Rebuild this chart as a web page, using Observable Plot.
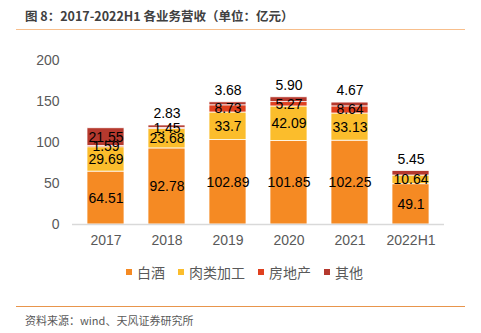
<!DOCTYPE html>
<html>
<head>
<meta charset="utf-8">
<script src="https://cdn.jsdelivr.net/npm/d3@7"></script>
<script src="https://cdn.jsdelivr.net/npm/@observablehq/plot@0.6"></script>
<style>
  html, body { margin: 0; padding: 0; background: #fff; }
  #wrap { position: relative; width: 481px; height: 333px; overflow: hidden; }
  #title { position: absolute; left: 25px; top: 7px; font: bold 12.5px "Noto Sans CJK SC", sans-serif; color: #404040; white-space: nowrap; line-height: 18px; }
  #line1 { position: absolute; left: 16px; top: 28.5px; width: 449px; height: 1.5px; background: #F8BF8C; }
  #chart { position: absolute; left: 0; top: 30px; }
  #legend { position: absolute; left: 126px; top: 262px; height: 20px; display: flex; align-items: center; font: 14px "Noto Sans CJK SC", sans-serif; color: #595959; white-space: nowrap; }
  .item { display: flex; align-items: center; margin-right: 13px; }
  .sw { width: 6px; height: 6px; margin-right: 5px; }
  #line2 { position: absolute; left: 16px; top: 306px; width: 449px; height: 1px; background: #E8954C; }
  #source { position: absolute; left: 25px; top: 312px; font: 11px "Noto Sans CJK SC", sans-serif; color: #595959; white-space: nowrap; line-height: 16px; }
</style>
</head>
<body>
<div id="wrap">
  <div id="title">图 8：2017-2022H1 各业务营收（单位：亿元）</div>
  <div id="line1"></div>
  <div id="chart"></div>
  <div id="legend"></div>
  <div id="line2"></div>
  <div id="source">资料来源：wind、天风证券研究所</div>
</div>
<script>
const years = ["2017", "2018", "2019", "2020", "2021", "2022H1"];
const series = ["白酒", "肉类加工", "房地产", "其他"];
const baijiu = [64.51, 92.78, 102.89, 101.85, 102.25, 49.1];
const meat = [29.69, 23.68, 33.7, 42.09, 33.13, 10.64];
const realEstate = [1.59, 1.45, 8.73, 5.27, 8.64, 0];
const other = [21.55, 2.83, 3.68, 5.90, 4.67, 5.45];
const colors = ["#F58A23", "#FBBD2C", "#E0401F", "#B5392E"];
const yTicks = [0, 50, 100, 150, 200];

const seriesValues = [baijiu, meat, realEstate, other];
const rows = [];
series.forEach((s, si) => {
  years.forEach((y, i) => {
    rows.push({ year: y, series: s, value: seriesValues[si][i] });
  });
});

const fmt = d => d.series === "其他" ? d.value.toFixed(2) : String(d.value);
const isAbove = d => d.series === "其他" && d.value < 10;

const chart = Plot.plot({
  width: 481,
  height: 230,
  marginLeft: 72,
  marginRight: 37,
  marginTop: 30,
  marginBottom: 36,
  style: { fontFamily: "'Liberation Sans', Arial, sans-serif", fontSize: "14px", color: "#595959", background: "transparent" },
  x: { type: "band", domain: years, paddingInner: 0.39, paddingOuter: 0.2, label: null, tickSize: 0, tickPadding: 11 },
  y: { domain: [0, 200], ticks: yTicks, label: null, tickSize: 0, tickPadding: 13 },
  color: { domain: series, range: colors },
  marks: [
    Plot.barY(rows, Plot.stackY({ x: "year", y: "value", fill: "series", stroke: "white", strokeWidth: 0.75, filter: d => d.value > 0 })),
    Plot.ruleY([0], { stroke: "#D9D9D9", strokeWidth: 1.5 }),
    Plot.text(rows, Plot.stackY({
      x: "year", y: "value",
      text: d => (d.value > 0 && !isAbove(d)) ? fmt(d) : null,
      fill: "#000", fontSize: 14
    })),
    Plot.text(rows, Plot.stackY2({
      x: "year", y: "value",
      text: d => isAbove(d) ? fmt(d) : null,
      fill: "#000", fontSize: 14, dy: -12
    }))
  ]
});
document.getElementById("chart").appendChild(chart);

const legend = document.getElementById("legend");
series.forEach((s, i) => {
  const item = document.createElement("div");
  item.className = "item";
  const sw = document.createElement("span");
  sw.className = "sw";
  sw.style.background = colors[i];
  const t = document.createElement("span");
  t.textContent = s;
  item.appendChild(sw);
  item.appendChild(t);
  legend.appendChild(item);
});
</script>
</body>
</html>
